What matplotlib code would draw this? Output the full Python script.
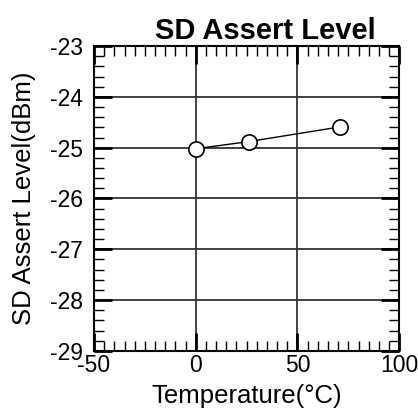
import numpy as np
import matplotlib.pyplot as plt
from matplotlib.ticker import MultipleLocator

plt.rcParams['font.family'] = ['Liberation Sans', 'DejaVu Sans']
plt.rcParams['axes.unicode_minus'] = False

# values
temp = [0, 26, 71]
level = [-25.02, -24.88, -24.59]

fig = plt.figure(figsize=(4.18, 4.08), dpi=100)
ax = fig.add_axes([0.225, 0.14, 0.73, 0.747])

ax.plot(temp, level, color='black', lw=1, marker='o', ms=11,
        mfc='white', mec='black', mew=1.2, zorder=5, clip_on=False)

ax.set_xlim(-50, 100)
ax.set_ylim(-29, -23)
ax.xaxis.set_major_locator(MultipleLocator(50))
ax.xaxis.set_minor_locator(MultipleLocator(5))
ax.yaxis.set_major_locator(MultipleLocator(1))
ax.yaxis.set_minor_locator(MultipleLocator(0.2))

ax.grid(True, which='major', color='#333333', lw=1.3)
ax.tick_params(which='both', direction='in', top=True, right=True,
               labelsize=16.5, color='black')
ax.tick_params(which='major', length=13, width=2)
ax.tick_params(which='minor', length=7, width=1)
ax.tick_params(axis='x', which='major', pad=2)
ax.tick_params(axis='y', which='major', pad=8)
for s in ax.spines.values():
    s.set_linewidth(1.5)

ax.set_xlabel('Temperature(°C)', fontsize=18.5, labelpad=5)
ax.set_ylabel('SD Assert Level(dBm)', fontsize=18.5, labelpad=10)
ax.set_title('SD Assert Level', fontsize=21, fontweight='bold', x=0.56, pad=5)

fig.savefig('out.png', dpi=100)
